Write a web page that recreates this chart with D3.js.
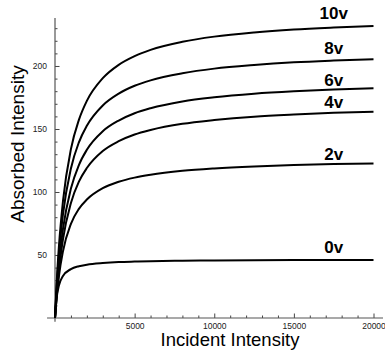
<!DOCTYPE html>
<html>
<head>
<meta charset="utf-8">
<script src="https://cdn.jsdelivr.net/npm/d3@7"></script>
<style>
  body { margin: 0; background: #fff; }
  svg { display: block; }
</style>
</head>
<body>
<script>
// incident intensity samples
var incident = [0, 100, 250, 500, 1000, 1500, 2000, 3000, 4000, 5000, 6000, 8000, 10000, 12500, 15000, 17500, 20000];

// absorbed intensity per voltage
var v10 = [0, 26.8, 57.4, 92.7, 134.0, 157.2, 172.3, 190.3, 200.9, 207.8, 212.8, 219.2, 223.3, 226.6, 228.9, 230.5, 231.8];
var v8  = [0, 23.8, 50.9, 82.2, 118.7, 139.4, 152.6, 168.7, 178.1, 184.3, 188.6, 194.2, 197.9, 200.8, 202.9, 204.3, 205.4];
var v6  = [0, 20.1, 43.2, 70.5, 102.7, 121.4, 133.5, 148.2, 156.7, 162.5, 166.5, 171.9, 175.2, 178.0, 179.9, 181.3, 182.3];
var v4  = [0, 17.6, 38.1, 62.4, 91.3, 108.2, 119.0, 132.5, 140.3, 145.6, 149.2, 154.1, 157.1, 159.8, 161.5, 162.8, 163.7];
var v2  = [0, 15.9, 33.5, 52.9, 74.7, 86.6, 94.0, 103.0, 108.1, 111.4, 113.7, 116.8, 118.7, 120.3, 121.4, 122.2, 122.7];
var v0  = [0, 15.5, 25.9, 33.3, 38.8, 41.1, 42.3, 43.6, 44.4, 44.8, 45.1, 45.5, 45.7, 45.9, 46.0, 46.1, 46.1];

var seriesNames = ["10v", "8v", "6v", "4v", "2v", "0v"];
var seriesValues = [v10, v8, v6, v4, v2, v0];

var xTicks = [5000, 10000, 15000, 20000];
var yTicks = [50, 100, 150, 200];

var w = 385;
var h = 350;

var xScale = d3.scaleLinear()
                .domain([0, 20000])
                .range([55, 373.5]);

var yScale = d3.scaleLinear()
                .domain([0, 238])
                .range([318, 18.1]);

var svg = d3.select("body")
            .append("svg")
            .attr("width", w)
            .attr("height", h);

var tickFont = "'Liberation Sans Narrow', 'Arial Narrow', 'Liberation Sans', sans-serif";

// minor ticks x (every 1000)
var xMinor = d3.range(1000, 20001, 1000).filter(function(d) { return d % 5000 != 0; });
svg.append("g")
    .attr("transform", "translate(0," + yScale(0) + ")")
    .call(d3.axisBottom(xScale).tickValues(xMinor).tickSizeInner(-2.5).tickSizeOuter(0).tickFormat(""))
    .call(function(g) { g.select(".domain").remove(); })
    .selectAll("line").attr("stroke", "#444");

// major ticks x
var xAxis = svg.append("g")
    .attr("transform", "translate(0," + yScale(0) + ")")
    .call(d3.axisBottom(xScale).tickValues(xTicks).tickSizeInner(-4.5).tickSizeOuter(0)
            .tickPadding(4.5).tickFormat(d3.format("d")));
xAxis.select(".domain").remove();
xAxis.selectAll("line").attr("stroke", "#444");
xAxis.selectAll("text")
    .attr("font-family", tickFont)
    .attr("font-size", "8.5px")
    .attr("fill", "#222");

// minor ticks y (every 10)
var yMinor = d3.range(10, 231, 10).filter(function(d) { return d % 50 != 0; });
svg.append("g")
    .attr("transform", "translate(" + xScale(0) + ",0)")
    .call(d3.axisLeft(yScale).tickValues(yMinor).tickSizeInner(-2.5).tickSizeOuter(0).tickFormat(""))
    .call(function(g) { g.select(".domain").remove(); })
    .selectAll("line").attr("stroke", "#444");

// major ticks y
var yAxis = svg.append("g")
    .attr("transform", "translate(" + xScale(0) + ",0)")
    .call(d3.axisLeft(yScale).tickValues(yTicks).tickSizeInner(-4.5).tickSizeOuter(0)
            .tickPadding(8).tickFormat(d3.format("d")));
yAxis.select(".domain").remove();
yAxis.selectAll("line").attr("stroke", "#444");
yAxis.selectAll("text")
    .attr("font-family", tickFont)
    .attr("font-size", "8.5px")
    .attr("fill", "#222");

// axis lines crossing at the origin
svg.append("line")
    .attr("x1", xScale(-500)).attr("x2", xScale(20600))
    .attr("y1", yScale(0)).attr("y2", yScale(0))
    .attr("stroke", "#555").attr("stroke-width", 1.2);
svg.append("line")
    .attr("x1", xScale(0)).attr("x2", xScale(0))
    .attr("y1", yScale(-3)).attr("y2", yScale(238))
    .attr("stroke", "#555").attr("stroke-width", 1.2);

// curves
var line = d3.line()
    .x(function(d, i) { return xScale(incident[i]); })
    .y(function(d) { return yScale(d); })
    .curve(d3.curveMonotoneX);

svg.selectAll("path.curve")
    .data(seriesValues)
    .enter()
    .append("path")
    .attr("class", "curve")
    .attr("d", line)
    .attr("fill", "none")
    .attr("stroke", "black")
    .attr("stroke-width", 2);

// curve labels, lifted above the curve end
var labelLift = [6.7, 5.2, 2.6, 3.4, 3.4, 6.6];
svg.selectAll("text.lbl")
    .data(seriesNames)
    .enter()
    .append("text")
    .attr("class", "lbl")
    .attr("x", xScale(17500))
    .attr("y", function(d, i) {
        var vals = seriesValues[i];
        return yScale(vals[vals.length - 1]) - labelLift[i];
    })
    .attr("text-anchor", "middle")
    .attr("font-family", "'Liberation Sans', Arial, sans-serif")
    .attr("font-weight", "bold")
    .attr("font-size", "17px")
    .text(function(d) { return d; });

// axis titles
svg.append("text")
    .attr("text-anchor", "middle")
    .attr("x", 230)
    .attr("y", 345.5)
    .attr("font-family", "'Liberation Sans', Arial, sans-serif")
    .attr("font-size", "18.5px")
    .text("Incident Intensity");

svg.append("text")
    .attr("text-anchor", "middle")
    .attr("transform", "translate(23.5,144) rotate(-90)")
    .attr("font-family", "'Liberation Sans', Arial, sans-serif")
    .attr("font-size", "19px")
    .text("Absorbed Intensity");
</script>
</body>
</html>
